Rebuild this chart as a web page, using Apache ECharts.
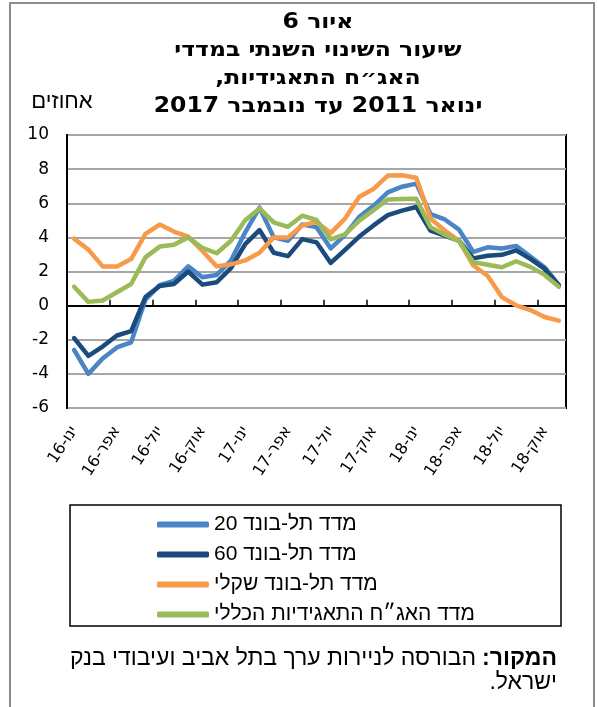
<!DOCTYPE html>
<html><head><meta charset="utf-8">
<script src="https://cdn.jsdelivr.net/npm/echarts@6/dist/echarts.min.js"></script>
<style>html,body{margin:0;padding:0;background:#fff}#c{width:598px;height:707px}</style>
</head><body><div id="c"></div>
<script>
const categories = ['ינו-16','פבר-16','מרץ-16','אפר-16','מאי-16','יונ-16','יול-16','אוג-16','ספט-16','אוק-16','נוב-16','דצמ-16',
  'ינו-17','פבר-17','מרץ-17','אפר-17','מאי-17','יונ-17','יול-17','אוג-17','ספט-17','אוק-17','נוב-17','דצמ-17',
  'ינו-18','פבר-18','מרץ-18','אפר-18','מאי-18','יונ-18','יול-18','אוג-18','ספט-18','אוק-18','נוב-18'];
const telBond20 = [-2.6,-4.0,-3.1,-2.45,-2.15,0.35,1.2,1.45,2.3,1.66,1.8,2.64,4.3,5.75,4.0,3.8,4.75,4.6,3.35,4.15,5.2,5.85,6.64,6.97,7.15,5.36,5.05,4.45,3.15,3.42,3.35,3.5,2.88,2.25,1.2];
const telBond60 = [-1.9,-2.95,-2.4,-1.75,-1.5,0.5,1.15,1.27,2.0,1.23,1.37,2.2,3.6,4.43,3.1,2.9,3.9,3.71,2.5,3.27,4.05,4.7,5.3,5.57,5.78,4.39,4.1,3.8,2.77,2.92,2.98,3.24,2.74,2.15,1.2];
const telBondShekel = [3.92,3.28,2.3,2.3,2.73,4.2,4.75,4.34,4.04,3.2,2.3,2.42,2.65,3.1,4.0,4.0,4.7,4.9,4.25,5.1,6.38,6.84,7.62,7.64,7.5,5.1,4.4,3.8,2.35,1.75,0.5,0.02,-0.26,-0.67,-0.88];
const generalIndex = [1.11,0.22,0.3,0.78,1.27,2.83,3.46,3.57,4.0,3.38,3.07,3.8,5.0,5.7,4.88,4.62,5.27,5.02,3.88,4.18,4.98,5.6,6.22,6.25,6.27,4.6,4.15,3.78,2.54,2.4,2.25,2.6,2.27,1.8,1.1];
const seriesNames = ['מדד תל-בונד 20','מדד תל-בונד 60','מדד תל-בונד שקלי','מדד האג״ח התאגידיות הכללי'];
const seriesColors = ['#4a86c6','#1b4a7c','#f79a4a','#9bbb59'];
const titleLines = ['איור 6','שיעור השינוי השנתי במדדי','האג״ח התאגידיות,','ינואר 2011 עד נובמבר 2017'];
const yUnit = 'אחוזים';
const sourceBold = 'המקור:';
const sourceText1 = 'הבורסה לניירות ערך בתל אביב ועיבודי בנק';
const sourceText2 = 'ישראל.';

const rtl = s => '\u202B' + s + '\u202C';
const chart = echarts.init(document.getElementById('c'), null, {renderer:'canvas'});
const seriesData = [telBond20, telBond60, telBondShekel, generalIndex];
const titleFont = 'DejaVu Sans';
const textFont = 'Liberation Sans';

const graphics = [
  {type:'rect', shape:{x:10,y:3,width:584,height:730}, style:{fill:'none',stroke:'#8c8c8c',lineWidth:2}, silent:true},
  {type:'rect', shape:{x:70,y:505,width:491,height:121}, style:{fill:'none',stroke:'#000',lineWidth:1.5}, silent:true},
  {type:'text', x:62, y:102, style:{text:rtl(yUnit), fontSize:22, fontFamily:textFont, fill:'#000', align:'center', verticalAlign:'middle'}},
  {type:'text', x:557, y:659, style:{text:'{n|'+rtl(sourceText1)+'}{b|'+rtl(sourceBold)+'}', align:'right', verticalAlign:'middle', fill:'#000',
     rich:{n:{fontSize:23, fontFamily:textFont, fill:'#000'}, b:{fontSize:23, fontFamily:textFont, fontWeight:'bold', fill:'#000', padding:[0,0,0,6]}}}},
  {type:'text', x:557, y:683, style:{text:rtl(sourceText2), fontSize:23, fontFamily:textFont, fill:'#000', align:'right', verticalAlign:'middle'}}
];
titleLines.forEach((t,i)=>{
  graphics.push({type:'text', x:318, y:23+i*28, scaleX:1.12,
    style:{text:rtl(t), fontSize:21, fontWeight:'bold', fontFamily:titleFont, fill:'#000', align:'center', verticalAlign:'middle'}});
});

const option = {
  animation:false,
  backgroundColor:'#fff',
  color: seriesColors,
  grid:{left:67, right:32, top:135, bottom:299, show:true, borderColor:'#000', borderWidth:2, backgroundColor:'transparent'},
  legend:{orient:'vertical', left:152, top:509, itemGap:9, itemWidth:52, itemHeight:6, icon:'roundRect',
    formatter: n => rtl(n),
    textStyle:{fontSize:21, fontFamily:textFont, color:'#000'}, data:seriesNames},
  xAxis:[
    {type:'category', data:categories, boundaryGap:true,
     axisLine:{show:true, onZero:true, lineStyle:{color:'#000', width:2}},
     axisTick:{show:true, inside:true, length:6, interval:2, lineStyle:{color:'#000', width:1.5}},
     axisLabel:{show:false}, splitLine:{show:false}},
    {type:'category', data:categories, boundaryGap:true, position:'bottom',
     axisLine:{show:false, onZero:false}, axisTick:{show:false},
     axisLabel:{show:true, interval:2, rotate:57, margin:20, fontSize:16, fontFamily:'DejaVu Sans', color:'#000', formatter: v => rtl(v)},
     splitLine:{show:false}}
  ],
  yAxis:{type:'value', min:-6, max:10, interval:2,
    axisLine:{show:true, lineStyle:{color:'#000', width:2}}, axisTick:{show:false},
    axisLabel:{fontSize:17, fontFamily:'DejaVu Sans', color:'#000', margin:18},
    splitLine:{show:true, lineStyle:{color:'#a6a6a6', width:2}}},
  series: seriesNames.map((n,i)=>({name:n, type:'line', xAxisIndex:0, data:seriesData[i], showSymbol:false, symbol:'none',
    lineStyle:{width:4.5, color:seriesColors[i], join:'round', cap:'round'}, itemStyle:{color:seriesColors[i]}, z:2+i})),
  graphic: graphics
};
chart.setOption(option);
</script></body></html>
